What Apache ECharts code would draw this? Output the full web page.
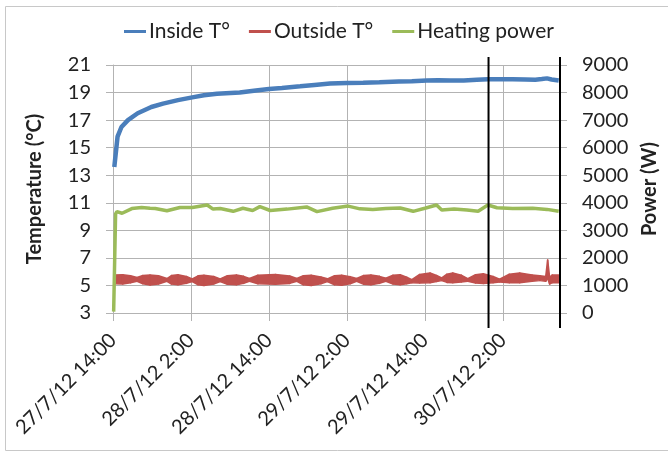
<!DOCTYPE html>
<html>
<head>
<meta charset="utf-8">
<script src="https://cdn.jsdelivr.net/npm/echarts@6/dist/echarts.min.js"></script>
<style>
html,body{margin:0;padding:0;background:#fff;}
#chart{width:668px;height:453px;}
</style>
</head>
<body>
<div id="chart"></div>
<script>
// Hours since 27/7/12 14:00
var tickLabels = ['27/7/12 14:00', '28/7/12 2:00', '28/7/12 14:00', '29/7/12 2:00', '29/7/12 14:00', '30/7/12 2:00'];

var insideHours = [0.2, 0.3, 0.7, 1.3, 2.3, 3.8, 5.9, 7.7, 10, 12.2, 14, 16, 19.5, 22, 24, 26, 28.8, 31, 33.4, 36, 38.5, 41, 44, 46, 48.3, 50, 52, 54, 56, 57.7, 59.5, 61.5, 63.5, 65, 66, 66.8, 67.5, 68.6];
var insideTemp  = [13.6, 13.7, 15.8, 16.5, 17.0, 17.5, 17.95, 18.2, 18.45, 18.65, 18.8, 18.92, 19.0, 19.15, 19.25, 19.33, 19.45, 19.55, 19.65, 19.7, 19.72, 19.75, 19.8, 19.82, 19.88, 19.9, 19.87, 19.88, 19.93, 19.97, 19.97, 19.96, 19.95, 19.93, 19.98, 20.03, 19.95, 19.88];

var powerHours = [0.1, 0.4, 0.6, 0.8, 1.4, 2.9, 4.4, 5.7, 6.5, 8.3, 10.3, 12.2, 14.5, 15.4, 16.5, 18.5, 20, 21.5, 22.6, 24.2, 26.8, 29.8, 31.4, 33.8, 36.2, 38, 40, 42, 44.2, 46.2, 48, 49.8, 50.6, 52.5, 54.5, 56.2, 57.7, 59.1, 61.5, 64.6, 66.8, 68.6];
var powerW     = [50, 3600, 3680, 3740, 3620, 3790, 3830, 3800, 3790, 3710, 3830, 3830, 3920, 3770, 3790, 3690, 3800, 3720, 3860, 3720, 3770, 3850, 3680, 3800, 3880, 3780, 3760, 3790, 3810, 3690, 3800, 3920, 3740, 3770, 3740, 3690, 3920, 3820, 3790, 3800, 3760, 3690];

// Outside temperature is a dense oscillating trace: drawn as its read-off lower/upper envelope
var outsideHours = [0.3, 1.5, 2.7, 3.7, 4.6, 5.7, 7.0, 8.3, 9.0, 10, 11.3, 12.2, 13.1, 14, 15.5, 16.5, 17.6, 19, 20.1, 21, 22.3, 25, 27.2, 28.3, 29.3, 30.5, 32, 33, 34.1, 35.2, 36.5, 37.5, 38.6, 39.7, 41, 42, 43.1, 44.2, 45.2, 46, 47.2, 48.8, 49.8, 50.6, 51.4, 52.3, 53.6, 54.6, 55.8, 57, 58.5, 59.5, 61, 62.6, 64.5, 65.7, 66.6, 66.9, 67.2, 67.6, 68.6];
var outsideLow   = [5.12, 5.1, 5.2, 5.3, 5.12, 5.03, 5.1, 5.3, 5.1, 5.05, 5.15, 5.28, 5.05, 5.0, 5.1, 5.28, 5.08, 5.05, 5.15, 5.3, 5.12, 5.08, 5.15, 5.3, 5.05, 5.0, 5.12, 5.28, 5.05, 5.02, 5.12, 5.3, 5.08, 5.05, 5.15, 5.3, 5.1, 5.05, 5.12, 5.2, 5.18, 5.2, 5.28, 5.35, 5.22, 5.2, 5.25, 5.3, 5.18, 5.15, 5.2, 5.25, 5.2, 5.2, 5.3, 5.35, 5.3, 5.5, 5.1, 5.2, 5.2];
var outsideHigh  = [5.76, 5.78, 5.7, 5.58, 5.72, 5.76, 5.7, 5.5, 5.72, 5.78, 5.65, 5.48, 5.7, 5.74, 5.65, 5.48, 5.7, 5.76, 5.66, 5.5, 5.74, 5.8, 5.68, 5.5, 5.7, 5.74, 5.62, 5.48, 5.7, 5.74, 5.64, 5.5, 5.72, 5.76, 5.66, 5.52, 5.74, 5.78, 5.6, 5.42, 5.8, 5.9, 5.72, 5.55, 5.82, 5.9, 5.75, 5.5, 5.78, 5.85, 5.65, 5.45, 5.82, 5.9, 5.75, 5.7, 5.65, 6.85, 5.6, 5.76, 5.76];

var markerHours = [57.8, 68.8];

var FONT = 'Lato';
var TXT = '#222';
var GRID = '#b3b3b3';
var RED = '#C0504D';

function pairs(xs, ys) { return xs.map(function (x, i) { return [x, ys[i]]; }); }

var chart = echarts.init(document.getElementById('chart'));
chart.setOption({
  animation: false,
  textStyle: { fontFamily: FONT },
  graphic: [{
    type: 'rect', shape: { x: 5.5, y: 6.5, width: 700, height: 444 },
    style: { fill: 'none', stroke: '#c8c8c8', lineWidth: 1 }, silent: true, z: -10
  }],
  legend: {
    data: ['Inside T°', 'Outside T°', 'Heating power'],
    left: 119, top: 16,
    icon: 'rect', itemWidth: 22, itemHeight: 3, itemGap: 19,
    textStyle: { fontFamily: FONT, fontSize: 21, color: TXT, padding: [0, 0, 0, -2] }
  },
  grid: { left: 113, right: 108, top: 65, bottom: 140 },
  xAxis: {
    type: 'value', min: 0, max: 68.8, interval: 12,
    axisLine: { show: true, lineStyle: { color: GRID, width: 1 } },
    axisTick: { show: true, length: 8, lineStyle: { color: GRID } },
    splitLine: { show: true, lineStyle: { color: GRID, width: 1 } },
    axisLabel: {
      rotate: 45, margin: 24, fontFamily: FONT, fontSize: 20, color: TXT,
      showMaxLabel: false,
      formatter: function (v) { var i = Math.round(v / 12); return Math.abs(v - i * 12) < 1e-6 ? (tickLabels[i] || '') : ''; }
    }
  },
  yAxis: [{
    type: 'value', min: 3, max: 21, interval: 2, position: 'left',
    name: 'Temperature (°C)', nameLocation: 'middle', nameRotate: 90, nameGap: 68,
    nameTextStyle: { fontFamily: FONT, fontSize: 20, fontWeight: 'bold', color: TXT },
    axisLine: { show: true, lineStyle: { color: GRID } },
    axisTick: { show: true, length: 7, lineStyle: { color: GRID } },
    splitLine: { show: true, lineStyle: { color: GRID } },
    axisLabel: { margin: 22, fontFamily: FONT, fontSize: 20, color: TXT }
  }, {
    type: 'value', min: 0, max: 9000, interval: 1000, position: 'right',
    name: 'Power (W)', nameLocation: 'middle', nameRotate: 90, nameGap: 78,
    nameTextStyle: { fontFamily: FONT, fontSize: 20, fontWeight: 'bold', color: TXT },
    axisLine: { show: true, lineStyle: { color: GRID } },
    axisTick: { show: true, length: 7, lineStyle: { color: GRID } },
    splitLine: { show: false },
    axisLabel: { margin: 22, fontFamily: FONT, fontSize: 20, color: TXT, formatter: function (v) { return String(v); } }
  }],
  series: [{
    name: 'Outside T°', type: 'custom', yAxisIndex: 0, z: 2,
    itemStyle: { color: RED },
    encode: { x: 0, y: [1, 2] },
    data: outsideHours.map(function (t, i) { return [t, outsideLow[i], outsideHigh[i]]; }),
    renderItem: function (params, api) {
      var i = params.dataIndex;
      if (i >= outsideHours.length - 1) return null;
      var a = api.coord([outsideHours[i], outsideLow[i]]);
      var b = api.coord([outsideHours[i + 1], outsideLow[i + 1]]);
      var c = api.coord([outsideHours[i + 1], outsideHigh[i + 1]]);
      var d = api.coord([outsideHours[i], outsideHigh[i]]);
      return {
        type: 'polygon',
        shape: { points: [a, b, c, d] },
        style: { fill: RED, stroke: RED, lineWidth: 1.5, lineJoin: 'round' }
      };
    }
  }, {
    name: 'Heating power', type: 'line', yAxisIndex: 1,
    data: pairs(powerHours, powerW),
    showSymbol: false, symbol: 'none',
    itemStyle: { color: '#9BBB59' },
    lineStyle: { color: '#9BBB59', width: 3.5 }, z: 3
  }, {
    name: 'Inside T°', type: 'line', yAxisIndex: 0,
    data: pairs(insideHours, insideTemp),
    showSymbol: false, symbol: 'none',
    itemStyle: { color: '#4A7EBB' },
    lineStyle: { color: '#4A7EBB', width: 4.5 }, z: 4
  }, {
    name: 'Markers', type: 'custom', yAxisIndex: 0, clip: false, z: 6,
    data: markerHours.map(function (t) { return [t]; }),
    renderItem: function (params, api) {
      var top = api.coord([api.value(0), 21]);
      var bot = api.coord([api.value(0), 3]);
      return {
        type: 'line',
        shape: { x1: top[0], y1: top[1] - 8, x2: bot[0], y2: bot[1] + 15 },
        style: { stroke: '#000', lineWidth: 2 }
      };
    }
  }]
});
</script>
</body>
</html>
